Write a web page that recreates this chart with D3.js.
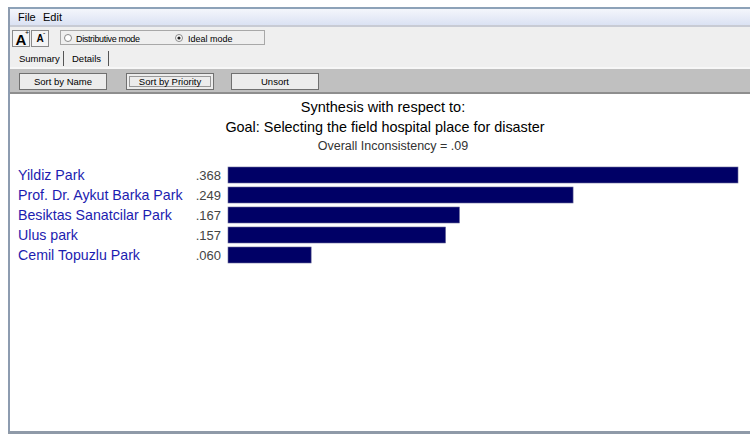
<!DOCTYPE html>
<html><head><meta charset="utf-8">
<script src="https://cdn.jsdelivr.net/npm/d3@7"></script>
<style>body{margin:0;background:#fff;}svg{display:block;font-family:Arial,"Liberation Sans",sans-serif;}</style>
</head><body>
<svg id="c" width="750" height="435"></svg>
<script>
const categories = ["Yildiz Park","Prof. Dr. Aykut Barka Park","Besiktas Sanatcilar Park","Ulus park","Cemil Topuzlu Park"];
const values = [0.368, 0.249, 0.167, 0.157, 0.060];
const valueLabels = [".368",".249",".167",".157",".060"];
const titleLines = ["Synthesis with respect to:","Goal: Selecting the field hospital place for disaster"];
const subtitle = "Overall Inconsistency = .09";

const svg = d3.select("#c");
// window frame
svg.append("rect").attr("x",0).attr("y",0).attr("width",750).attr("height",435).attr("fill","#ffffff");
svg.append("rect").attr("x",8).attr("y",7).attr("width",742).attr("height",2).attr("fill","#8da2b8");
svg.append("rect").attr("x",8).attr("y",7).attr("width",2).attr("height",426).attr("fill","#8d9cb0");
svg.append("rect").attr("x",8).attr("y",431).attr("width",742).attr("height",3).attr("fill","#8f9aa8");
// menu bar
const g0 = svg.append("defs").append("linearGradient").attr("id","mb").attr("x1",0).attr("y1",0).attr("x2",0).attr("y2",1);
g0.append("stop").attr("offset","0").attr("stop-color","#f4f6fb");
g0.append("stop").attr("offset","1").attr("stop-color","#dbe2f3");
svg.append("rect").attr("x",10).attr("y",9).attr("width",740).attr("height",16).attr("fill","url(#mb)");
svg.append("rect").attr("x",10).attr("y",25).attr("width",740).attr("height",2).attr("fill","#c8cbd4");
svg.append("text").attr("x",18).attr("y",21).attr("font-size",11).text("File");
svg.append("text").attr("x",43).attr("y",21).attr("font-size",11).text("Edit");
// toolbar
svg.append("rect").attr("x",10).attr("y",27).attr("width",740).attr("height",41).attr("fill","#efefef");
svg.append("rect").attr("x",10).attr("y",67).attr("width",740).attr("height",2).attr("fill","#f7f7f7");
// font buttons
[[12,"A",15,"bold"],[31,"A",10,"bold"]].forEach(([x,t,fs,fw])=>{
  svg.append("rect").attr("x",x+0.5).attr("y",30.5).attr("width",17).attr("height",16).attr("fill","#f4f4f4").attr("stroke","#8a8a8a");
  svg.append("text").attr("x",x+9).attr("y",fs>12?45:42).attr("text-anchor","middle").attr("font-size",fs).attr("font-weight",fw).text(t);
  svg.append("text").attr("x",x+(fs>12?13:12)).attr("y",35).attr("font-size",7).text(fs>12?"+":"-");
});
// radio group
svg.append("rect").attr("x",60.5).attr("y",30.5).attr("width",204).attr("height",14).attr("fill","#efefef").attr("stroke","#a8a8a8");
svg.append("circle").attr("cx",68).attr("cy",38).attr("r",3.5).attr("fill","#fff").attr("stroke","#888");
svg.append("text").attr("x",76).attr("y",42).attr("font-size",9).attr("textLength",64).text("Distributive mode");
svg.append("circle").attr("cx",179).attr("cy",38).attr("r",3.5).attr("fill","#fff").attr("stroke","#888");
svg.append("circle").attr("cx",179).attr("cy",38).attr("r",1.6).attr("fill","#222");
svg.append("text").attr("x",188).attr("y",42).attr("font-size",9).text("Ideal mode");
// tabs
svg.append("text").attr("x",19).attr("y",62).attr("font-size",9.5).text("Summary");
svg.append("rect").attr("x",63).attr("y",51).attr("width",1).attr("height",15).attr("fill","#555");
svg.append("text").attr("x",72).attr("y",62).attr("font-size",9.5).text("Details");
svg.append("rect").attr("x",108).attr("y",51).attr("width",1).attr("height",15).attr("fill","#555");
// buttons row
svg.append("rect").attr("x",10).attr("y",69).attr("width",740).attr("height",24).attr("fill","#c0c0c0");
svg.append("rect").attr("x",10).attr("y",92).attr("width",740).attr("height",2).attr("fill","#8e8e8e");
[["Sort by Name",19],["Sort by Priority",126],["Unsort",231]].forEach(([t,x],i)=>{
  svg.append("rect").attr("x",x+0.5).attr("y",73.5).attr("width",87).attr("height",16).attr("fill","#ececec").attr("stroke","#707070");
  if(i===1) svg.append("rect").attr("x",x+3.5).attr("y",76.5).attr("width",81).attr("height",10).attr("fill","none").attr("stroke","#444").attr("stroke-dasharray","1,1");
  svg.append("text").attr("x",x+44).attr("y",85).attr("text-anchor","middle").attr("font-size",9.5).text(t);
});

// titles
svg.append("text").attr("x",383).attr("y",112).attr("text-anchor","middle").attr("font-size",14.5).attr("fill","#000").text(titleLines[0]);
svg.append("text").attr("x",385).attr("y",132).attr("text-anchor","middle").attr("font-size",14.4).attr("fill","#000").text(titleLines[1]);
svg.append("text").attr("x",393).attr("y",150).attr("text-anchor","middle").attr("font-size",12.5).attr("fill","#333").text(subtitle);

// bars
const x = d3.scaleLinear().domain([0,0.368]).range([228,738]);
const y = d3.scaleBand().domain(categories).range([165,265]).paddingInner(0.2).paddingOuter(0.1);
svg.selectAll("rect.bar").data(categories).join("rect").attr("class","bar")
  .attr("x",x(0)).attr("y",d=>y(d)).attr("width",(d,i)=>x(values[i])-x(0)).attr("height",y.bandwidth())
  .attr("fill","#000066").attr("stroke","#6a6a9a").attr("stroke-width",0.6);
svg.selectAll("text.cat").data(categories).join("text").attr("class","cat")
  .attr("x",18).attr("y",d=>y(d)+y.bandwidth()/2+5).attr("font-size",14.2).attr("fill","#1c1cb0").text(d=>d);
svg.selectAll("text.val").data(categories).join("text").attr("class","val")
  .attr("x",221).attr("y",d=>y(d)+y.bandwidth()/2+5).attr("text-anchor","end").attr("font-size",13).attr("fill","#444").text((d,i)=>valueLabels[i]);
</script>
</body></html>
